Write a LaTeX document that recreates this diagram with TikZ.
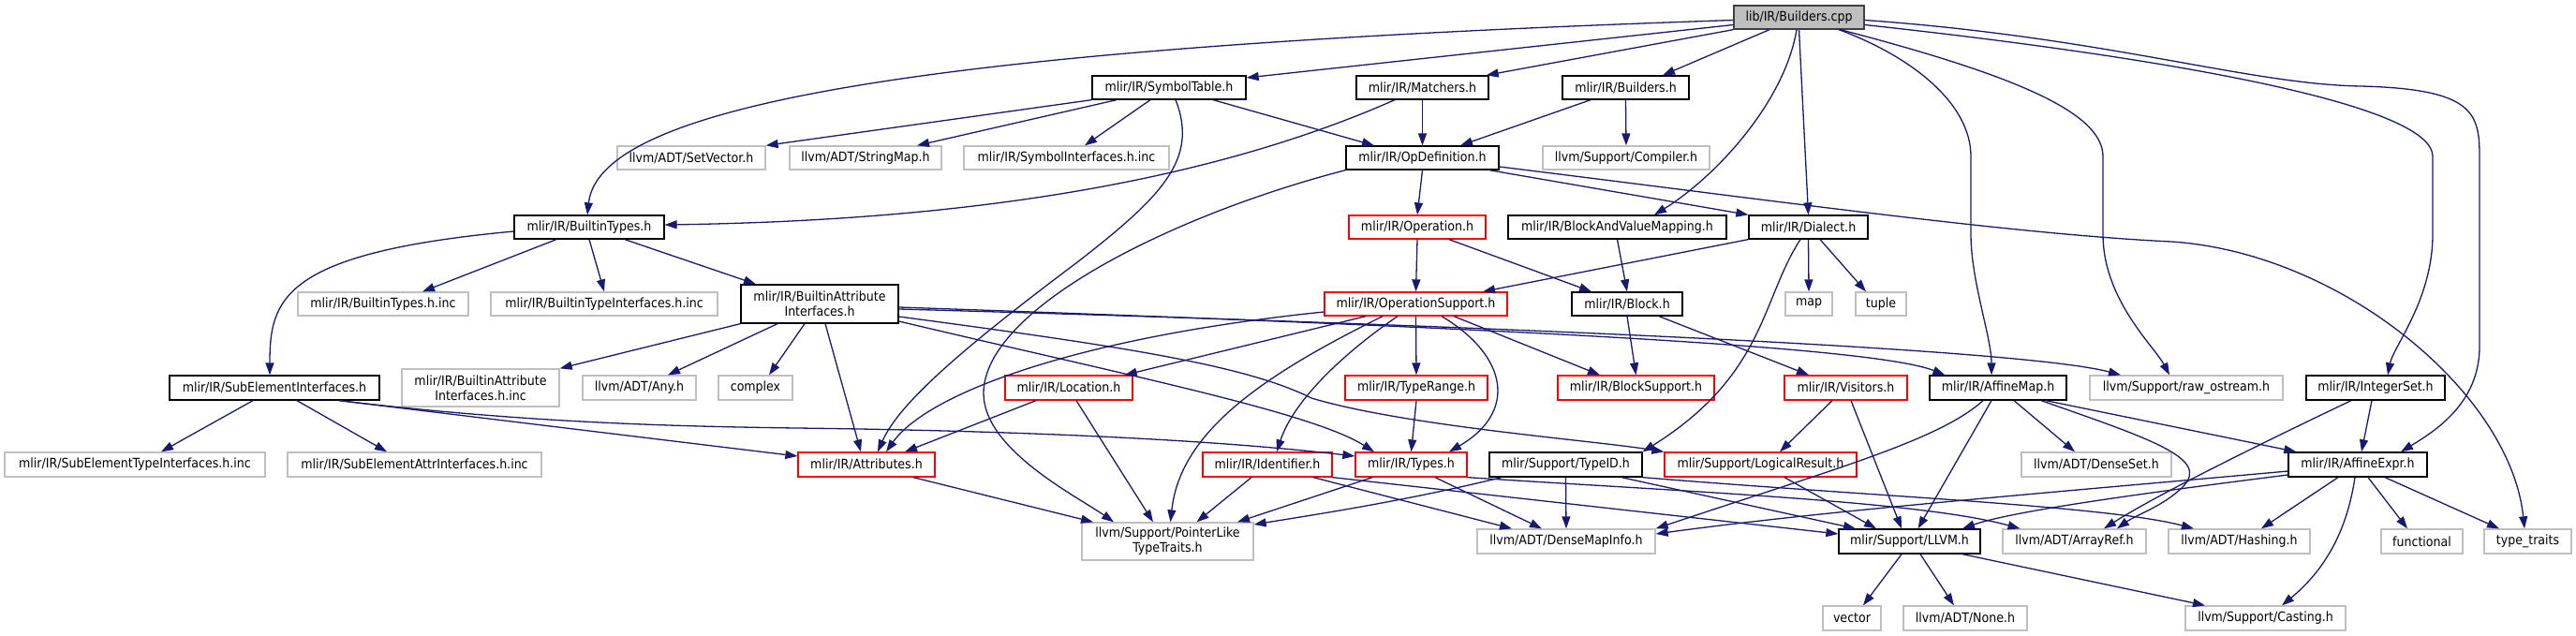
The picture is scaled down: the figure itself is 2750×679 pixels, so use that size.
\documentclass[tikz,border=0pt]{standalone}
\usepackage{fontspec}
\setmainfont{DejaVu Sans Condensed}
\usetikzlibrary{arrows.meta}
\definecolor{edgec}{HTML}{191970}
\definecolor{lgray}{HTML}{BFBFBF}
\definecolor{dgray}{HTML}{404040}
\definecolor{nred}{HTML}{FF0000}
\tikzset{
  nb/.style={draw=black, line width=1.3pt, fill=white, inner sep=0pt, align=center,
    font=\fontsize{14}{16}\selectfont, minimum height=25pt},
  ngr/.style={nb, draw=lgray},
  nrd/.style={nb, draw=nred},
  ncpp/.style={nb, draw=dgray, fill=lgray},
  e/.style={draw=edgec, line width=1.3pt, -{Triangle[length=13pt,width=9pt]}}
}
\begin{document}
\begin{tikzpicture}[x=1pt,y=-1pt]
\useasboundingbox (0,0) rectangle (2750,679);
% row 1
\node[ncpp, minimum width=139pt] (cpp) at (1920.5,18.5) {lib/IR/Builders.cpp};
% row 2
\node[nb, minimum width=164pt] (symtab) at (1248,93.5) {mlir/IR/SymbolTable.h};
\node[nb, minimum width=141pt] (matchers) at (1518.5,93.5) {mlir/IR/Matchers.h};
\node[nb, minimum width=135pt] (buildersh) at (1735.5,93.5) {mlir/IR/Builders.h};
% row 3
\node[ngr, minimum width=158pt] (setvec) at (738,168.5) {llvm/ADT/SetVector.h};
\node[ngr, minimum width=162pt] (strmap) at (924,168.5) {llvm/ADT/StringMap.h};
\node[ngr, minimum width=219pt] (syminc) at (1138.5,168.5) {mlir/IR/SymbolInterfaces.h.inc};
\node[nb, minimum width=163pt] (opdef) at (1518.5,168.5) {mlir/IR/OpDefinition.h};
\node[ngr, minimum width=178pt] (compiler) at (1736,168.5) {llvm/Support/Compiler.h};
% row 4
\node[nb, minimum width=160pt] (btypes) at (629,242.5) {mlir/IR/BuiltinTypes.h};
\node[nrd, minimum width=146pt] (operation) at (1513,242.5) {mlir/IR/Operation.h};
\node[nb, minimum width=233pt] (bavm) at (1726.5,242.5) {mlir/IR/BlockAndValueMapping.h};
\node[nb, minimum width=127pt] (dialect) at (1930.5,242.5) {mlir/IR/Dialect.h};
% row 5
\node[ngr, minimum width=182pt] (btinc) at (409,324.5) {mlir/IR/BuiltinTypes.h.inc};
\node[ngr, minimum width=242pt] (btiinc) at (645,324.5) {mlir/IR/BuiltinTypeInterfaces.h.inc};
\node[nb, minimum width=168pt, minimum height=41pt] (bai) at (875,324.5) {mlir/IR/BuiltinAttribute\\Interfaces.h};
\node[nrd, minimum width=195pt] (opsup) at (1511.5,324.5) {mlir/IR/OperationSupport.h};
\node[nb, minimum width=118pt] (block) at (1737,324.5) {mlir/IR/Block.h};
\node[ngr, minimum width=50pt] (map) at (1931,324.5) {map};
\node[ngr, minimum width=54pt] (tuple) at (2008,324.5) {tuple};
% row 6
\node[nb, minimum width=224pt, minimum height=26pt] (subel) at (293,414) {mlir/IR/SubElementInterfaces.h};
\node[ngr, minimum width=168pt, minimum height=40pt] (baiinc) at (513,414) {mlir/IR/BuiltinAttribute\\Interfaces.h.inc};
\node[ngr, minimum width=121pt, minimum height=26pt] (any) at (682.5,414) {llvm/ADT/Any.h};
\node[ngr, minimum width=79pt, minimum height=26pt] (complex) at (806.5,414) {complex};
\node[nrd, minimum width=136pt, minimum height=26pt] (location) at (1141,414) {mlir/IR/Location.h};
\node[nrd, minimum width=152pt, minimum height=26pt] (typerange) at (1512,414) {mlir/IR/TypeRange.h};
\node[nrd, minimum width=167pt, minimum height=26pt] (blocksup) at (1746.5,414) {mlir/IR/BlockSupport.h};
\node[nrd, minimum width=131pt, minimum height=26pt] (visitors) at (1970.5,414) {mlir/IR/Visitors.h};
\node[nb, minimum width=146pt, minimum height=26pt] (affmap) at (2133,414) {mlir/IR/AffineMap.h};
\node[ngr, minimum width=206pt, minimum height=26pt] (rawos) at (2334,414) {llvm/Support/raw\_ostream.h};
\node[nb, minimum width=148pt, minimum height=26pt] (intset) at (2536,414) {mlir/IR/IntegerSet.h};
% row 7
\node[ngr, minimum width=278pt, minimum height=26pt] (subtype) at (144,496) {mlir/IR/SubElementTypeInterfaces.h.inc};
\node[ngr, minimum width=271pt, minimum height=26pt] (subattr) at (442.5,496) {mlir/IR/SubElementAttrInterfaces.h.inc};
\node[nrd, minimum width=146pt, minimum height=26pt] (attrs) at (925,496) {mlir/IR/Attributes.h};
\node[nrd, minimum width=138pt, minimum height=26pt] (ident) at (1353,496) {mlir/IR/Identifier.h};
\node[nrd, minimum width=119pt, minimum height=26pt] (types) at (1506.5,496) {mlir/IR/Types.h};
\node[nb, minimum width=163pt, minimum height=26pt] (typeid) at (1671.5,496) {mlir/Support/TypeID.h};
\node[nrd, minimum width=205pt, minimum height=26pt] (logres) at (1879.5,496) {mlir/Support/LogicalResult.h};
\node[ngr, minimum width=160pt, minimum height=26pt] (denseset) at (2238,496) {llvm/ADT/DenseSet.h};
\node[nb, minimum width=148pt, minimum height=26pt] (affexpr) at (2517,496) {mlir/IR/AffineExpr.h};
% row 8
\node[ngr, minimum width=183pt, minimum height=40pt] (ptrlike) at (1246.5,578) {llvm/Support/PointerLike\\TypeTraits.h};
\node[ngr, minimum width=190pt, minimum height=26pt] (dmi) at (1672,578) {llvm/ADT/DenseMapInfo.h};
\node[nb, minimum width=151pt, minimum height=26pt] (llvmh) at (2038.5,578) {mlir/Support/LLVM.h};
\node[ngr, minimum width=153pt, minimum height=26pt] (arrayref) at (2214.5,578) {llvm/ADT/ArrayRef.h};
\node[ngr, minimum width=151pt, minimum height=26pt] (hashing) at (2390.5,578) {llvm/ADT/Hashing.h};
\node[ngr, minimum width=87pt, minimum height=26pt] (functional) at (2585.5,578) {functional};
\node[ngr, minimum width=93pt, minimum height=26pt] (typetraits) at (2698.5,578) {type\_traits};
% row 9
\node[ngr, minimum width=62pt, minimum height=26pt] (vector) at (1977,660) {vector};
\node[ngr, minimum width=132pt, minimum height=26pt] (none) at (2098,660) {llvm/ADT/None.h};
\node[ngr, minimum width=171pt, minimum height=26pt] (casting) at (2418.5,660) {llvm/Support/Casting.h};

% ---- edges from lib/IR/Builders.cpp
\draw[e] ([yshift=-3pt]cpp.west) .. controls (1000,50) and (640,110) .. ([xshift=-2pt]btypes.north);
\draw[e] ([yshift=-8pt]cpp.west) -- ([yshift=10.5pt]symtab.east);
\draw[e] (cpp.south west) -- ([xshift=-3pt]matchers.north east);
\draw[e] ([xshift=-31.5pt]cpp.south) -- ([xshift=39.5pt]buildersh.north);
\draw[e] ([xshift=-2.5pt]cpp.south) .. controls (1905,110) and (1830,190) .. ([xshift=39.5pt]bavm.north);
\draw[e] (cpp.south) -- (dialect.north);
\draw[e] ([xshift=42.5pt]cpp.south) .. controls (2040,60) and (2104,110) .. (2104,167) -- (2104,250) .. controls (2104,300) and (2126,360) .. ([xshift=-7pt]affmap.north);
\draw[e] ([xshift=44pt]cpp.south) .. controls (2150,80) and (2245,120) .. (2245,167) -- (2245,250) .. controls (2245,320) and (2300,370) .. ([xshift=-18pt]rawos.north);
\draw[e] ([yshift=-8pt]cpp.east) .. controls (2300,60) and (2597,110) .. (2597,167) -- (2597,250) .. controls (2597,320) and (2555,370) .. ([xshift=13pt]intset.north);
\draw[e] ([yshift=-3pt]cpp.east) .. controls (2250,40) and (2400,90) .. (2520,92) .. controls (2640,95) and (2647,120) .. (2647,167) -- (2647,370) .. controls (2647,430) and (2600,460) .. ([xshift=46pt]affexpr.north);
% ---- SymbolTable.h
\draw[e] (symtab.south west) -- (setvec.north east);
\draw[e] ([xshift=-56pt]symtab.south) -- ([xshift=55pt]strmap.north);
\draw[e] ([xshift=-20pt]symtab.south) -- ([xshift=19.5pt]syminc.north);
\draw[e] ([xshift=7pt]symtab.south) .. controls (1280,170) and (1240,210) .. (1150,280) .. controls (1030,370) and (960,430) .. ([xshift=12pt]attrs.north);
\draw[e] ([xshift=47pt]symtab.south) -- ([xshift=-51.5pt]opdef.north);
% ---- Matchers.h
\draw[e] (matchers.south) -- (opdef.north);
\draw[e] ([xshift=-29.5pt]matchers.south) .. controls (1300,190) and (1050,235) .. ([yshift=2.5pt]btypes.east);
% ---- Builders.h
\draw[e] ([xshift=-37.5pt]buildersh.south) -- ([xshift=40.5pt]opdef.north);
\draw[e] (buildersh.south) -- (compiler.north);
% ---- OpDefinition.h
\draw[e] (opdef.south) -- (operation.north);
\draw[e] ([xshift=71.5pt]opdef.south) -- (dialect.north west);
\draw[e] ([yshift=-9.5pt]opdef.east) .. controls (1900,215) and (2150,250) .. (2318,258) .. controls (2500,270) and (2680,420) .. ([xshift=-3.5pt]typetraits.north);
\draw[e] (opdef.south west) .. controls (1250,230) and (1050,330) .. (1050,420) .. controls (1050,480) and (1150,530) .. ([xshift=-57.5pt]ptrlike.north);
% ---- Operation.h
\draw[e] (operation.south) -- (opsup.north);
\draw[e] ([xshift=34pt]operation.south) -- ([xshift=-38pt]block.north);
% ---- BlockAndValueMapping.h
\draw[e] (bavm.south) -- (block.north);
% ---- Dialect.h
\draw[e] (dialect.south west) -- ([xshift=71.5pt]opsup.north);
\draw[e] (dialect.south) -- (map.north);
\draw[e] ([xshift=12.5pt]dialect.south) -- ([xshift=-16pt]tuple.north);
\draw[e] ([xshift=-8.5pt]dialect.south) .. controls (1880,320) and (1885,400) .. (typeid.north east);
% ---- BuiltinTypes.h
\draw[e] ([yshift=-4.5pt]btypes.west) .. controls (300,270) and (288,320) .. ([xshift=-5pt]subel.north);
\draw[e] ([xshift=-35pt]btypes.south) -- ([xshift=42pt]btinc.north);
\draw[e] (btypes.south) -- (btiinc.north);
\draw[e] ([xshift=38pt]btypes.south) -- ([xshift=-68pt]bai.north);
% ---- BuiltinAttributeInterfaces.h
\draw[e] (bai.south west) -- (baiinc.north east);
\draw[e] ([xshift=-45pt]bai.south) -- ([xshift=30.5pt]any.north);
\draw[e] ([xshift=-16pt]bai.south) -- ([xshift=14.5pt]complex.north);
\draw[e] ([xshift=6pt]bai.south) -- ([xshift=-6pt]attrs.north);
\draw[e] ([yshift=-3.5pt]bai.east) .. controls (1600,350) and (2000,370) .. ([xshift=17pt]affmap.north west);
\draw[e] ([yshift=-5.5pt]bai.east) .. controls (1500,345) and (2150,370) .. ([xshift=-70pt]rawos.north);
\draw[e] ([yshift=-18.5pt]bai.east) .. controls (1200,400) and (1400,440) .. ([xshift=-39.5pt]types.north);
\draw[e] ([yshift=-13.5pt]bai.east) .. controls (1200,370) and (1330,390) .. (1400,425) .. controls (1500,455) and (1700,470) .. (logres.north west);
% ---- SubElementInterfaces.h
\draw[e] ([xshift=-23pt]subel.south) -- ([xshift=28pt]subtype.north);
\draw[e] ([xshift=24pt]subel.south) -- ([xshift=-29.5pt]subattr.north);
\draw[e] ([xshift=69pt]subel.south) -- ([yshift=9pt]attrs.west);
\draw[e] ([xshift=69pt]subel.south) .. controls (550,450) and (700,455) .. (850,457) .. controls (1100,460) and (1300,470) .. ([yshift=9pt]types.west);
% ---- Location.h
\draw[e] ([xshift=-35pt]location.south) -- ([xshift=41pt]attrs.north);
\draw[e] ([xshift=8pt]location.south) -- ([xshift=-15.5pt]ptrlike.north);
% ---- Attributes.h
\draw[e] ([xshift=50pt]attrs.south) -- ([xshift=-79.5pt]ptrlike.north);
% ---- OperationSupport.h
\draw[e] ([yshift=-8.5pt]opsup.west) .. controls (1150,360) and (990,420) .. ([xshift=21pt]attrs.north);
\draw[e] ([xshift=-53.5pt]opsup.south) -- ([xshift=-9pt]location.north east);
\draw[e] ([xshift=-35.5pt]opsup.south) .. controls (1350,400) and (1260,460) .. ([xshift=3pt]ptrlike.north);
\draw[e] ([xshift=-19.5pt]opsup.south) .. controls (1430,380) and (1380,430) .. ([xshift=10pt]ident.north);
\draw[e] (opsup.south) -- (typerange.north);
\draw[e] ([xshift=27.5pt]opsup.south) .. controls (1610,380) and (1620,440) .. ([xshift=40.5pt]types.north);
\draw[e] ([xshift=40.5pt]opsup.south) -- ([xshift=-38.5pt]blocksup.north);
% ---- TypeRange.h
\draw[e] (typerange.south) -- (types.north);
% ---- Block.h
\draw[e] (block.south) -- (blocksup.north);
\draw[e] ([xshift=34pt]block.south) -- ([xshift=-39.5pt]visitors.north);
% ---- Visitors.h
\draw[e] ([xshift=-14.5pt]visitors.south) -- ([xshift=20.5pt]logres.north);
\draw[e] ([xshift=5.5pt]visitors.south) -- ([xshift=-8.5pt]llvmh.north);
% ---- LogicalResult.h
\draw[e] ([xshift=25.5pt]logres.south) -- ([xshift=-35.5pt]llvmh.north);
% ---- Identifier.h
\draw[e] ([xshift=-17pt]ident.south) -- ([xshift=31pt]ptrlike.north);
\draw[e] ([xshift=49pt]ident.south) -- ([xshift=-58pt]dmi.north);
\draw[e] (ident.south east) -- ([yshift=8pt]llvmh.west);
% ---- Types.h
\draw[e] ([xshift=-41.5pt]types.south) -- ([xshift=74.5pt]ptrlike.north);
\draw[e] ([xshift=25.5pt]types.south) -- ([xshift=-26pt]dmi.north);
\draw[e] (types.south east) .. controls (1800,525) and (2050,535) .. ([xshift=-58pt]arrayref.north);
% ---- TypeID.h
\draw[e] (typeid.south) -- (dmi.north);
\draw[e] ([xshift=-68.5pt]typeid.south) .. controls (1500,535) and (1400,550) .. ([yshift=18pt]ptrlike.east);
\draw[e] ([xshift=59.5pt]typeid.south) -- ([xshift=-57.5pt]llvmh.north);
\draw[e] (typeid.south east) .. controls (2000,530) and (2250,540) .. ([xshift=-48.5pt]hashing.north);
% ---- AffineMap.h
\draw[e] ([xshift=-16pt]affmap.south) .. controls (2070,470) and (1960,500) .. (dmi.north east);
\draw[e] ([xshift=-7pt]affmap.south) -- ([xshift=9pt]llvmh.north);
\draw[e] ([xshift=17pt]affmap.south) -- ([xshift=-23pt]denseset.north);
\draw[e] ([xshift=46pt]affmap.south) .. controls (2300,470) and (2360,490) .. (2330,520) .. controls (2310,540) and (2280,550) .. ([xshift=45.5pt]arrayref.north);
\draw[e] ([xshift=51pt]affmap.south) -- ([xshift=9pt]affexpr.north west);
% ---- IntegerSet.h
\draw[e] ([xshift=-4pt]intset.south) -- ([xshift=4pt]affexpr.north);
\draw[e] ([xshift=-26pt]intset.south) .. controls (2400,480) and (2300,530) .. ([xshift=31.5pt]arrayref.north);
% ---- AffineExpr.h
\draw[e] ([yshift=-7pt]affexpr.west) .. controls (2200,525) and (1950,545) .. ([yshift=8pt]dmi.east);
\draw[e] ([yshift=-11pt]affexpr.west) .. controls (2300,525) and (2150,545) .. ([xshift=56.5pt]llvmh.north);
\draw[e] ([xshift=-21pt]affexpr.south) -- ([xshift=23.5pt]hashing.north);
\draw[e] ([xshift=11pt]affexpr.south) -- ([xshift=-15.5pt]functional.north);
\draw[e] ([xshift=29pt]affexpr.south) -- ([xshift=-30.5pt]typetraits.north);
\draw[e] ([xshift=-3pt]affexpr.south) .. controls (2505,570) and (2480,610) .. ([xshift=17.5pt]casting.north);
% ---- LLVM.h
\draw[e] ([xshift=-8.5pt]llvmh.south) -- ([xshift=12pt]vector.north);
\draw[e] ([xshift=11.5pt]llvmh.south) -- ([xshift=-12pt]none.north);
\draw[e] ([xshift=56.5pt]llvmh.south) -- ([xshift=-64.5pt]casting.north);
\end{tikzpicture}
\end{document}
